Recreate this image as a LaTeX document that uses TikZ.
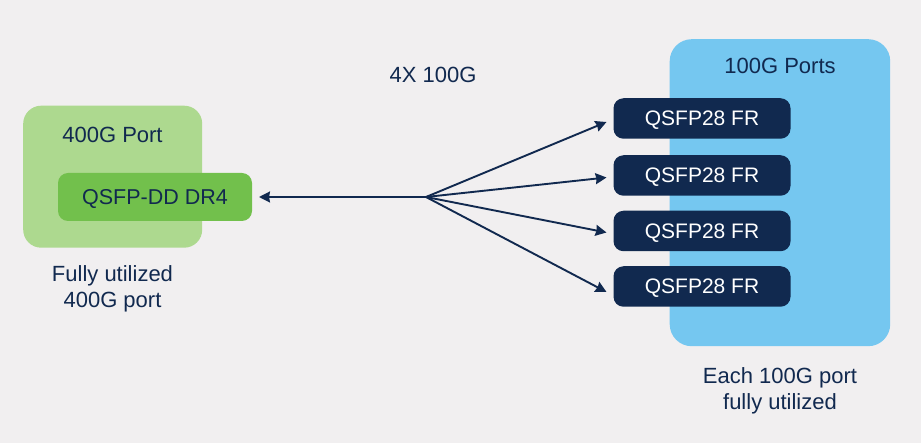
\documentclass[tikz,border=0pt]{standalone}
\usepackage{fontspec}
\setmainfont{Liberation Sans}
\usetikzlibrary{arrows.meta}
\definecolor{bgc}{HTML}{F1EFF0}
\definecolor{navy}{HTML}{11294F}
\definecolor{lgreen}{HTML}{ADD98F}
\definecolor{dgreen}{HTML}{72C04C}
\definecolor{lblue}{HTML}{75C7F0}
\newcommand{\fs}[1]{\fontsize{#1pt}{#1pt}\selectfont}
\tikzset{x=1pt,y=-1pt,
 portbox/.style={draw=none,inner sep=0pt,anchor=north west},
 qsfp/.style={fill=navy,text=white,rounded corners=10pt,minimum width=177pt,minimum height=40.5pt,inner sep=0pt,font=\fs{21},text height=15pt,text depth=0pt,anchor=center},
 lab/.style={text=navy,font=\fs{22},align=center,inner sep=0pt,text height=15.5pt,text depth=0pt},
 conn/.style={navy,line width=1.9pt,-{Stealth[length=11pt,width=11pt,inset=1pt]}}}
\begin{document}
\begin{tikzpicture}
\useasboundingbox (0,0) rectangle (921,443);
\fill[bgc] (0,0) rectangle (921,443);
\node[portbox,fill=lgreen,rounded corners=18pt,minimum width=179pt,minimum height=142pt] (p400) at (23,105.5) {};
\node[portbox,fill=lblue,rounded corners=22pt,minimum width=220.5pt,minimum height=307pt] (p100) at (669.5,39) {};
\node[qsfp,fill=dgreen,text=navy,minimum width=194pt,minimum height=48pt] (dd) at (155,197) {\fs{21.5}QSFP-DD DR4};
\node[qsfp] (q1) at (702,118.5) {QSFP28 FR};
\node[qsfp] (q2) at (702,175.5) {QSFP28 FR};
\node[qsfp] (q3) at (702,231) {QSFP28 FR};
\node[qsfp] (q4) at (702,286.5) {QSFP28 FR};
\node[lab] (t400) at (112.5,135) {400G Port};
\node[lab] (t100) at (780,65.5) {100G Ports};
\node[lab] (t4x) at (433,74.5) {4X 100G};
\node[lab] (tf1) at (112.5,274) {Fully utilized};
\node[lab] (tf2) at (112.5,300) {400G port};
\node[lab] (te1) at (780,376) {Each 100G port};
\node[lab] (te2) at (780,402) {fully utilized};
\coordinate (hub) at (426,197);
\coordinate (e1) at (606.5,122);
\coordinate (e2) at (606.5,177.5);
\coordinate (e3) at (606.5,232.5);
\coordinate (e4) at (606.5,292);
\coordinate (e0) at (259,197);
\draw[conn] (hub) -- (e0);
\draw[conn] (hub) -- (e1);
\draw[conn] (hub) -- (e2);
\draw[conn] (hub) -- (e3);
\draw[conn] (hub) -- (e4);
\end{tikzpicture}
\end{document}
